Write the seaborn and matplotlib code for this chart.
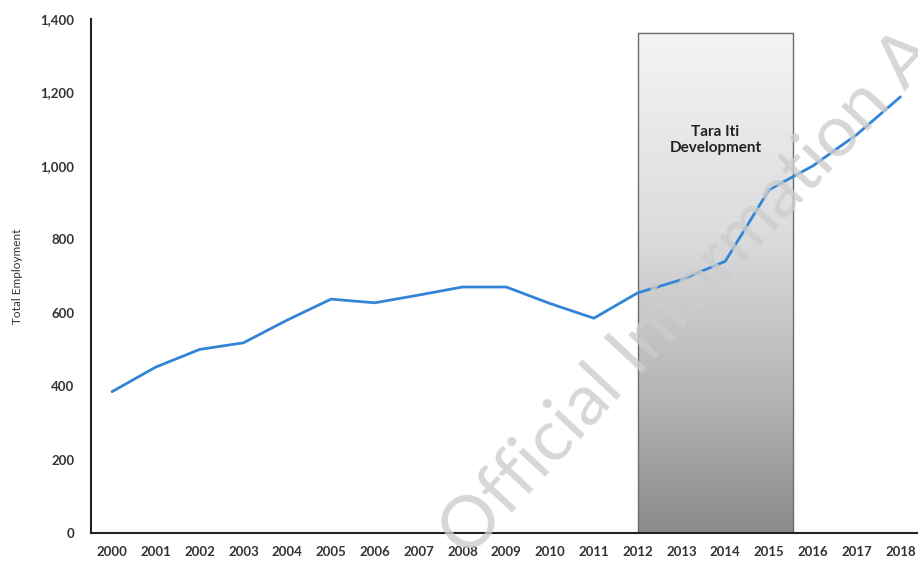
import numpy as np
import pandas as pd
import matplotlib
matplotlib.use("Agg")
import matplotlib.pyplot as plt
from matplotlib.colors import LinearSegmentedColormap
from matplotlib.patches import Rectangle
import seaborn as sns

years = list(range(2000, 2019))
employment = [385, 452, 500, 518, 580, 637, 627, 648, 670, 670, 625, 585,
              654, 690, 740, 935, 1000, 1085, 1188]
y_ticks = [0, 200, 400, 600, 800, 1000, 1200, 1400]
y_tick_labels = ["0", "200", "400", "600", "800", "1,000", "1,200", "1,400"]
shade_start, shade_end, shade_top = 2012.0, 2015.55, 1362
shade_label = "Tara Iti\nDevelopment"
y_label = "Total Employment"
watermark = "Official Information Act"

sns.set_theme(style="white")
plt.rcParams['font.family'] = ['Lato', 'DejaVu Sans']

fig = plt.figure(figsize=(9.18, 5.66), dpi=100)
ax = fig.add_axes([91/918, 33/566, 1 - 91/918, (533-19)/566])

df = pd.DataFrame({"Year": years, "Employment": employment})

# gradient shaded region
cmap = LinearSegmentedColormap.from_list(
    "g", [(0.0, "#8a8a8c"), (0.3, "#b8b8ba"), (0.6, "#dcdcde"), (1.0, "#f4f4f6")])
grad = np.linspace(0, 1, 256).reshape(-1, 1)
ax.imshow(grad, cmap=cmap, origin="lower", aspect="auto",
          extent=[shade_start, shade_end, 0, shade_top], zorder=1)
ax.add_patch(Rectangle((shade_start, 0), shade_end - shade_start, shade_top,
                       fill=False, edgecolor="#6e6e6e", linewidth=1.0, zorder=2))

sns.lineplot(data=df, x="Year", y="Employment", ax=ax, color="#3285d6",
             linewidth=2.0, zorder=3)

ax.text((shade_start + shade_end) / 2, 1070, shade_label, ha="center",
        va="center", fontsize=11, fontweight="bold", color="#222222", zorder=4,
        linespacing=1.2)

ax.set_xlim(1999.52, 2018.4)
ax.set_ylim(0, 1400)
ax.set_xticks(years)
ax.set_xticklabels([str(y) for y in years], fontsize=9.5, fontweight="bold",
                   color="#333333")
ax.set_yticks(y_ticks)
ax.set_yticklabels(y_tick_labels, fontsize=9.5, fontweight="bold", color="#333333")
ax.tick_params(axis="both", length=0)
ax.tick_params(axis="y", pad=12)
ax.tick_params(axis="x", pad=9)
ax.set_xlabel("")
ax.set_ylabel(y_label, fontsize=8.5, color="#333333")
ax.yaxis.set_label_coords(-0.082, 0.5)
for s in ["top", "right"]:
    ax.spines[s].set_visible(False)
for s in ["left", "bottom"]:
    ax.spines[s].set_color("#222222")
    ax.spines[s].set_linewidth(1.5)
ax.set_facecolor("white")

fig.text(468/918, 6/566, watermark, rotation=47, rotation_mode="anchor",
         ha="left", va="baseline", fontsize=52, fontweight="normal",
         color="#cdcdcd", alpha=0.8,
         family=["Lato", "DejaVu Sans"], zorder=10)

fig.savefig("out.png", dpi=100)
